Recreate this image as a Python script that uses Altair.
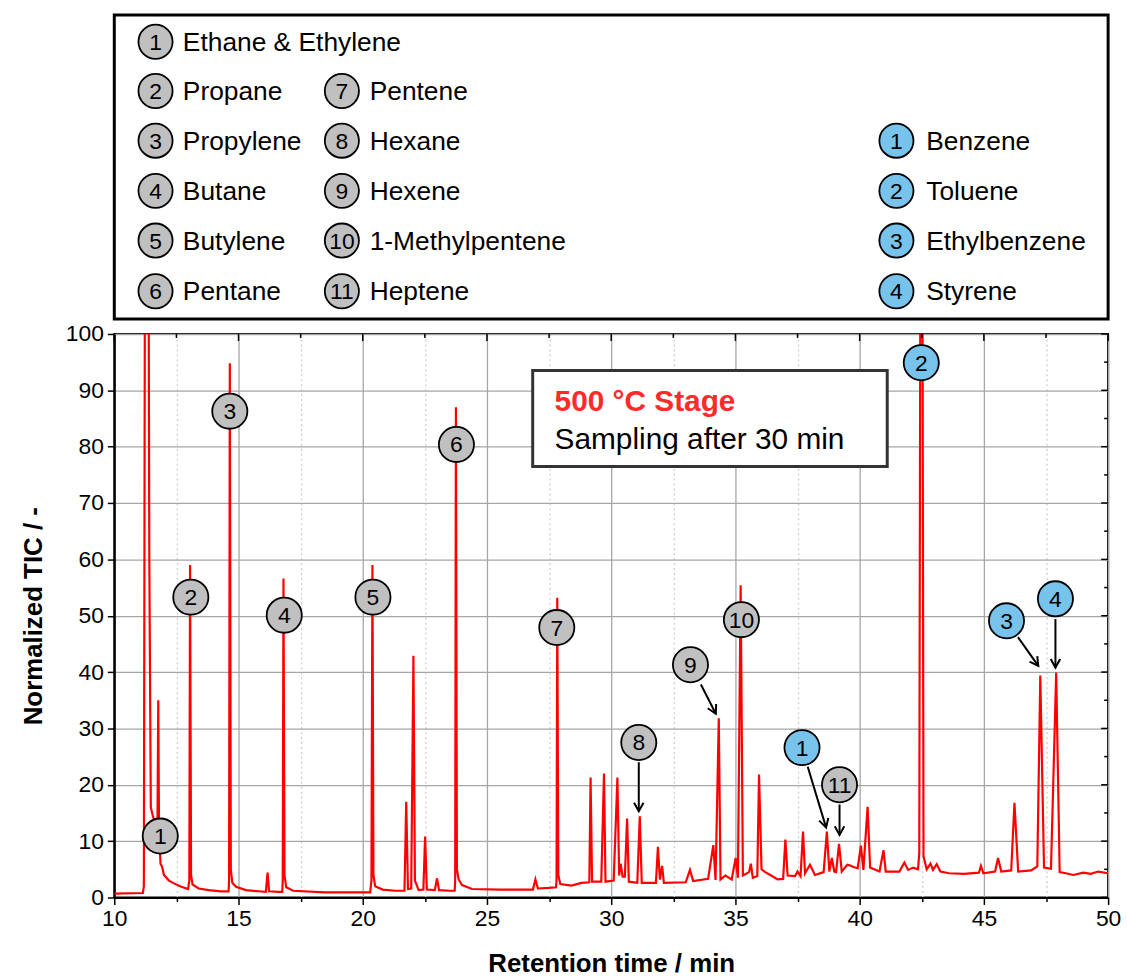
import altair as alt
import pandas as pd

FONT = "Liberation Sans"

# ---------------- chromatogram trace (vertices) ----------------
TRACE_T = [
    10.0, 11.15, 11.19, 11.24, 11.37, 11.41, 11.47, 11.55, 11.65, 11.74, 11.77, 11.80, 11.86, 11.92,
    12.0, 12.2, 12.4, 12.7, 12.97,
    13.02, 13.05, 13.09, 13.15, 13.4, 13.8, 14.3, 14.6,
    14.62, 14.65, 14.69, 14.75, 14.9, 15.3, 15.8, 16.1, 16.17, 16.23, 16.6, 16.76,
    16.78, 16.81, 16.85, 16.92, 17.2, 18.5, 20.3,
    20.35, 20.39, 20.43, 20.5, 20.8, 21.3, 21.68, 21.75, 21.82, 21.95, 22.04, 22.1, 22.25, 22.44,
    22.51, 22.58, 22.9, 22.99, 23.07, 23.5, 23.7,
    23.72, 23.75, 23.79, 23.86, 24.0, 24.4, 25.5, 26.85, 26.95, 27.05, 27.5, 27.78,
    27.8, 27.83, 27.87, 27.95, 28.4, 28.8, 29.12, 29.17, 29.23, 29.6, 29.71, 29.77, 30.1, 30.25,
    30.32, 30.38, 30.46, 30.55, 30.64, 30.71, 31.05, 31.15, 31.23, 31.8, 31.88, 31.96, 32.05, 32.12,
    33.0, 33.17, 33.3, 33.9, 34.11, 34.2, 34.33, 34.4, 34.6, 34.85, 35.01, 35.1, 35.21, 35.3,
    35.55, 35.62, 35.7, 35.88, 35.95, 36.05, 36.2, 36.4, 36.7, 36.92, 37.01, 37.1, 37.4, 37.5,
    37.62, 37.72, 37.8, 38.0, 38.2, 38.55, 38.68, 38.78, 38.88, 38.98, 39.05, 39.17, 39.28, 39.5,
    39.6, 39.75, 39.92, 40.05, 40.15, 40.32, 40.42, 40.8, 40.96, 41.05, 41.6, 41.8, 41.95, 42.15, 42.35,
    42.4, 42.45, 42.52, 42.57, 42.7, 42.85, 42.95, 43.1, 43.25, 43.6, 44.2, 44.8, 44.88, 44.98,
    45.45, 45.57, 45.7, 46.1, 46.23, 46.38, 46.9, 47.15, 47.27, 47.42, 47.7, 47.91, 48.05, 48.3,
    48.6, 49.0, 49.3, 49.6, 50.0,
]
TRACE_Y = [
    0.7, 0.8, 2.0, 130.0, 130.0, 60.0, 16.0, 14.5, 13.0, 14.0, 35.0, 12.0, 6.0, 5.5,
    4.0, 3.0, 2.5, 1.9, 1.5,
    3.0, 59.0, 4.0, 2.3, 1.6, 1.3, 1.1, 1.1,
    3.0, 94.8, 5.0, 2.6, 1.9, 1.3, 1.1, 1.0, 4.4, 1.1, 1.0, 1.0,
    3.0, 56.6, 4.0, 1.8, 1.2, 0.9, 0.9,
    3.0, 59.0, 4.0, 2.0, 1.4, 1.2, 1.2, 17.0, 1.5, 1.6, 42.9, 3.0, 1.3, 1.4,
    10.8, 1.4, 1.3, 3.4, 1.3, 1.2, 1.2,
    3.0, 87.0, 5.0, 3.2, 2.2, 1.5, 1.4, 1.4, 3.2, 1.6, 1.7, 1.8,
    3.0, 53.2, 4.0, 2.4, 2.1, 2.6, 2.7, 21.3, 2.8, 2.8, 22.0, 2.8, 3.0, 21.3,
    3.9, 6.0, 3.7, 3.7, 14.0, 2.8, 2.6, 14.4, 2.6, 2.6, 9.0, 3.2, 5.6, 2.6,
    2.7, 4.9, 2.9, 3.3, 9.3, 3.1, 31.8, 3.2, 3.9, 3.2, 7.0, 3.5, 55.4, 3.9,
    4.5, 6.0, 3.5, 3.8, 21.8, 5.0, 4.5, 4.0, 3.2, 3.3, 10.3, 3.9, 3.8, 4.6,
    3.8, 11.7, 4.3, 5.8, 4.0, 4.5, 11.7, 4.6, 7.0, 4.6, 4.5, 9.5, 4.6, 5.8,
    5.7, 5.4, 5.2, 9.2, 4.9, 16.1, 5.3, 4.6, 8.4, 4.6, 4.6, 6.2, 4.9, 5.3, 5.0,
    8.0, 130.0, 130.0, 7.3, 5.0, 6.0, 4.9, 5.9, 4.6, 4.3, 4.2, 4.4, 5.6, 4.3,
    4.6, 7.0, 4.6, 4.8, 16.8, 4.6, 4.8, 5.5, 39.4, 5.3, 5.1, 39.9, 4.5, 4.3,
    4.0, 4.4, 4.2, 4.6, 4.3,
]

# ---------------- axis ticks ----------------
X_TICKS = [10, 12.5, 15, 17.5, 20, 22.5, 25, 27.5, 30, 32.5, 35, 37.5, 40, 42.5, 45, 47.5, 50]
Y_TICKS = [0, 5, 10, 15, 20, 25, 30, 35, 40, 45, 50, 55, 60, 65, 70, 75, 80, 85, 90, 95, 100]

# ---------------- peak labels ----------------
LABEL_TEXT = ["1", "2", "3", "4", "5", "6", "7", "8", "9", "10", "11", "1", "2", "3", "4"]
LABEL_GROUP = ["grey"] * 11 + ["blue"] * 4
LABEL_T = [11.85, 13.08, 14.65, 16.84, 20.41, 23.77, 27.81, 31.11, 33.19, 35.24, 39.19,
           37.68, 42.48, 45.91, 47.88]
LABEL_Y = [10.9, 53.3, 86.3, 50.1, 53.3, 80.4, 47.9, 27.5, 41.3, 49.3, 20.0,
           26.6, 94.9, 49.1, 53.0]

# arrows: from label edge to peak
ARROW_T0 = [31.11, 33.61, 39.19, 37.91, 46.37, 47.88]
ARROW_Y0 = [24.0, 37.8, 16.5, 23.2, 46.2, 49.4]
ARROW_T1 = [31.11, 34.21, 39.19, 38.65, 47.19, 47.88]
ARROW_Y1 = [15.3, 32.6, 11.1, 12.4, 41.1, 40.8]
ARROW_ANGLE = [0, 333, 0, 344, 325, 0]

# ---------------- compound legend ----------------
GREY_NAMES = ["Ethane & Ethylene", "Propane", "Propylene", "Butane", "Butylene", "Pentane",
              "Pentene", "Hexane", "Hexene", "1-Methylpentene", "Heptene"]
BLUE_NAMES = ["Benzene", "Toluene", "Ethylbenzene", "Styrene"]

# info box
BOX_T = [26.84, 41.11]
BOX_Y = [76.5, 93.5]
BOX_LINES = ["500 °C Stage", "Sampling after 30 min"]

GREY = "#c0c0c0"
BLUE = "#78c3eb"

# ================= plot panel =================
trace = pd.DataFrame({"t": TRACE_T, "y": TRACE_Y, "i": list(range(len(TRACE_T)))})
xs = alt.Scale(domain=[10, 50], nice=False, zero=False)
ys = alt.Scale(domain=[0, 100], nice=False)

minor_x = "datum.value % 5 !== 0"
minor_y = "datum.value % 10 !== 0"

x_axis = alt.Axis(
    values=X_TICKS, labelExpr="datum.value % 5 === 0 ? datum.label : ''", labelOverlap=False,
    labelFlush=False,
    labelFontSize=23, labelFont=FONT, labelColor="black", labelPadding=3,
    tickColor="black", tickWidth=1.5,
    tickSize={"condition": {"test": minor_x, "value": 4}, "value": 7},
    grid=True,
    gridColor={"condition": {"test": minor_x, "value": "#cfcfcf"}, "value": "#a6a6a6"},
    gridDash={"condition": {"test": minor_x, "value": [2, 3]}, "value": []},
    gridWidth=1.3,
    domainColor="black", domainWidth=2,
    titleFontSize=26, titleFont=FONT, titleFontWeight="bold", titleColor="black", titlePadding=20,
)
y_axis = alt.Axis(
    values=Y_TICKS, labelExpr="datum.value % 10 === 0 ? datum.label : ''", labelOverlap=False,
    labelFlush=False,
    labelFontSize=23, labelFont=FONT, labelColor="black", labelPadding=4,
    tickColor="black", tickWidth=1.5,
    tickSize={"condition": {"test": minor_y, "value": 4}, "value": 7},
    grid=True,
    gridColor={"condition": {"test": minor_y, "value": "#cfcfcf"}, "value": "#a6a6a6"},
    gridDash={"condition": {"test": minor_y, "value": [2, 3]}, "value": []},
    gridWidth=1.3,
    domainColor="black", domainWidth=2,
    titleFontSize=26, titleFont=FONT, titleFontWeight="bold", titleColor="black", titlePadding=19,
)

X = lambda f: alt.X(f, scale=xs, title="Retention time / min")
Y = lambda f: alt.Y(f, scale=ys, title="Normalized TIC / -")

line = alt.Chart(trace).mark_line(color="#ff0000", strokeWidth=2.2, clip=True).encode(
    x=alt.X("t:Q", scale=xs, axis=x_axis, title="Retention time / min"),
    y=alt.Y("y:Q", scale=ys, axis=y_axis, title="Normalized TIC / -"),
    order="i:Q",
)

# inward ticks on the top and right frame edges
xt_major = pd.DataFrame({"t": [v for v in X_TICKS if v % 5 == 0]})
xt_minor = pd.DataFrame({"t": [v for v in X_TICKS if v % 5 != 0]})
yt_major = pd.DataFrame({"y": [v for v in Y_TICKS if v % 10 == 0]})
yt_minor = pd.DataFrame({"y": [v for v in Y_TICKS if v % 10 != 0]})
top_major = alt.Chart(xt_major).mark_rule(color="black", strokeWidth=1.5).encode(
    x=X("t:Q"), y=alt.value(0), y2=alt.value(7))
top_minor = alt.Chart(xt_minor).mark_rule(color="black", strokeWidth=1.5).encode(
    x=X("t:Q"), y=alt.value(0), y2=alt.value(4))
right_major = alt.Chart(yt_major).mark_rule(color="black", strokeWidth=1.5).encode(
    y=Y("y:Q"), x=alt.value(1000), x2=alt.value(993))
right_minor = alt.Chart(yt_minor).mark_rule(color="black", strokeWidth=1.5).encode(
    y=Y("y:Q"), x=alt.value(1000), x2=alt.value(996))

box_df = pd.DataFrame({"t": [BOX_T[0]], "t2": [BOX_T[1]], "y": [BOX_Y[0]], "y2": [BOX_Y[1]]})
box = alt.Chart(box_df).mark_rect(fill="white", stroke="#333333", strokeWidth=3).encode(
    x=X("t:Q"), x2="t2:Q", y=Y("y:Q"), y2="y2:Q",
)
box_text_df = pd.DataFrame({"t": [27.72, 27.72], "y": [86.4, 79.6], "txt": BOX_LINES,
                            "k": ["head", "sub"]})
box_head = alt.Chart(box_text_df[box_text_df.k == "head"]).mark_text(
    align="left", baseline="alphabetic", fontSize=30, fontWeight="bold", color="#ff2a2a", font=FONT
).encode(x=X("t:Q"), y=Y("y:Q"), text="txt:N")
box_sub = alt.Chart(box_text_df[box_text_df.k == "sub"]).mark_text(
    align="left", baseline="alphabetic", fontSize=30, color="black", font=FONT
).encode(x=X("t:Q"), y=Y("y:Q"), text="txt:N")

arrows = pd.DataFrame({"t": ARROW_T0, "y": ARROW_Y0, "t2": ARROW_T1, "y2": ARROW_Y1,
                       "ang": ARROW_ANGLE})
shafts = alt.Chart(arrows).mark_rule(color="black", strokeWidth=2).encode(
    x=X("t:Q"), y=Y("y:Q"), x2="t2:Q", y2="y2:Q",
)
heads = alt.Chart(arrows).mark_point(
    shape="M-0.55,-1L0,0L0.55,-1", size=300, filled=False, stroke="black", strokeWidth=2, opacity=1
).encode(
    x=X("t2:Q"), y=Y("y2:Q"),
    angle=alt.Angle("ang:Q", scale=None),
)

labels = pd.DataFrame({"t": LABEL_T, "y": LABEL_Y, "txt": LABEL_TEXT, "g": LABEL_GROUP})
bubbles = alt.Chart(labels).mark_point(
    shape="circle", size=1250, filled=True, stroke="black", strokeWidth=1.8, opacity=1
).encode(
    x=X("t:Q"), y=Y("y:Q"),
    fill=alt.Fill("g:N", scale=alt.Scale(domain=["grey", "blue"], range=[GREY, BLUE]), legend=None),
)
numbers = alt.Chart(labels).mark_text(fontSize=23, font=FONT, color="black", baseline="middle", dy=1).encode(
    x=X("t:Q"), y=Y("y:Q"), text="txt:N",
)

plot = alt.layer(line, top_major, top_minor, right_major, right_minor, box, box_head, box_sub,
                 shafts, heads, bubbles, numbers).properties(width=1000, height=567)

# ================= legend panel =================
leg_rows = []
grey_pos = [(0, 0), (0, 1), (0, 2), (0, 3), (0, 4), (0, 5), (1, 1), (1, 2), (1, 3), (1, 4), (1, 5)]
blue_pos = [(2, 2), (2, 3), (2, 4), (2, 5)]
COL_CIRCLE = [41.5, 229, 787]
COL_TEXT = [69, 257, 817]
ROW_Y = [27, 76.5, 126.5, 177, 227, 278]
for k, name in enumerate(GREY_NAMES):
    c, r = grey_pos[k]
    leg_rows.append({"cx": COL_CIRCLE[c], "tx": COL_TEXT[c], "cy": ROW_Y[r], "num": str(k + 1),
                     "name": name, "g": "grey"})
for k, name in enumerate(BLUE_NAMES):
    c, r = blue_pos[k]
    leg_rows.append({"cx": COL_CIRCLE[c], "tx": COL_TEXT[c], "cy": ROW_Y[r], "num": str(k + 1),
                     "name": name, "g": "blue"})
leg = pd.DataFrame(leg_rows)
lx = alt.Scale(domain=[0, 1000], nice=False, zero=False)
ly = alt.Scale(domain=[0, 306], nice=False, reverse=True)

leg_circ = alt.Chart(leg).mark_point(
    shape="circle", size=1180, filled=True, stroke="black", strokeWidth=1.8, opacity=1
).encode(
    x=alt.X("cx:Q", scale=lx, axis=None), y=alt.Y("cy:Q", scale=ly, axis=None),
    fill=alt.Fill("g:N", scale=alt.Scale(domain=["grey", "blue"], range=[GREY, BLUE]), legend=None),
)
leg_num = alt.Chart(leg).mark_text(fontSize=23, font=FONT, color="black", baseline="middle", dy=1).encode(
    x=alt.X("cx:Q", scale=lx, axis=None), y=alt.Y("cy:Q", scale=ly, axis=None), text="num:N",
)
leg_name = alt.Chart(leg).mark_text(fontSize=26.5, font=FONT, color="black", align="left",
                                    baseline="middle", dy=1).encode(
    x=alt.X("tx:Q", scale=lx, axis=None), y=alt.Y("cy:Q", scale=ly, axis=None), text="name:N",
)
legend_panel = alt.layer(leg_circ, leg_num, leg_name).properties(
    width=1000, height=306, view=alt.ViewBackground(stroke="black", strokeWidth=3)
)

chart = alt.vconcat(legend_panel, plot, spacing=1).configure(
    padding={"left": 19, "top": 10, "right": 5, "bottom": 5}, font=FONT, background="white"
).configure_view(stroke="black", strokeWidth=2)

chart.save("out.html", embed_options={"renderer": "svg", "actions": False})
